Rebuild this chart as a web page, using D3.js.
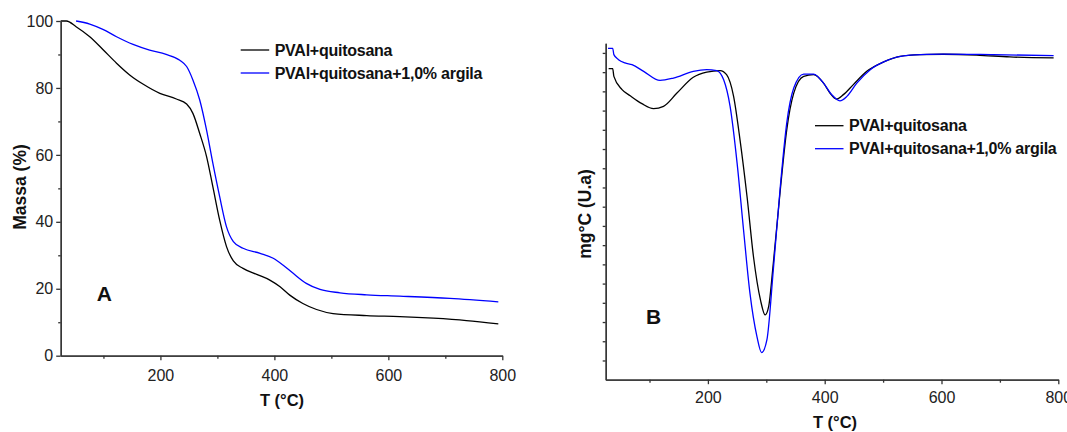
<!DOCTYPE html>
<html lang="pt">
<head>
<meta charset="UTF-8">
<title>TGA / DTG</title>
<style>
    body { margin: 0; background: #fff; }
    svg { display: block; font-family: 'Liberation Sans', Arial, sans-serif; }
    .axis path, .axis line { stroke: #333; stroke-width: 1.3; }
    .axis text { font-size: 16px; fill: #222; }
    .title { font-weight: bold; fill: #111; }
</style>
</head>
<body>
<div id="chart"></div>
<script src="https://cdn.jsdelivr.net/npm/d3@7/dist/d3.min.js"></script>
<script>
    const seriesNames = ['PVAl+quitosana', 'PVAl+quitosana+1,0% argila']
    const seriesColors = ['#000000', '#0000ff']

    // TGA (painel A) - massa (%) x T (°C)
    const tgaTempBlack = [25, 35, 52, 76, 99, 123, 146, 170, 199, 228, 246, 257, 269, 281, 292, 304, 316, 328, 345, 369, 392, 410, 427, 450, 474, 503, 562, 620, 679, 737, 793]
    const tgaMassBlack = [100, 100, 98.3, 95.3, 91.5, 87.4, 83.9, 81.1, 78.4, 76.7, 75.2, 72.4, 66.4, 59.5, 50.5, 40.5, 32.6, 28.3, 26.1, 24.3, 22.6, 20.6, 18.1, 15.6, 13.8, 12.6, 12.0, 11.7, 11.2, 10.5, 9.5]
    const tgaTempBlue = [52, 76, 99, 123, 152, 181, 210, 234, 246, 257, 269, 281, 292, 304, 316, 328, 345, 375, 398, 415, 433, 456, 480, 515, 562, 620, 708, 793]
    const tgaMassBlue = [100, 99.1, 97.5, 95.3, 93.0, 91.3, 90.0, 88.3, 86.4, 82.4, 76.4, 67.4, 57.5, 47.5, 38.5, 34.1, 32.1, 30.6, 29.1, 27.1, 24.6, 21.6, 19.8, 18.8, 18.2, 17.8, 17.1, 16.1]

    // DTG (painel B) - unidades arbitrarias
    const dtgTempBlack = [30, 37, 39, 53, 67, 87, 107, 124, 147, 175, 198, 221, 232, 244, 255, 267, 278, 290, 298, 304, 312, 324, 335, 347, 364, 381, 398, 409, 420, 432, 449, 472, 501, 529, 563, 603, 660, 717, 792]
    const dtgValBlack = [16.18, 16.18, 15.78, 15.09, 14.77, 14.36, 14.10, 14.22, 14.91, 15.73, 16.00, 16.08, 15.87, 14.74, 12.48, 9.53, 6.41, 4.15, 3.37, 3.80, 6.06, 9.88, 13.0, 14.91, 15.78, 15.87, 15.43, 14.91, 14.60, 14.83, 15.35, 16.04, 16.53, 16.82, 16.91, 16.93, 16.89, 16.79, 16.74]
    const dtgTempBlue = [29, 37, 39, 47, 58, 70, 90, 118, 141, 175, 198, 215, 227, 238, 250, 261, 272, 284, 292, 301, 312, 324, 335, 347, 364, 381, 398, 412, 426, 438, 455, 478, 506, 546, 603, 689, 792]
    const dtgValBlue = [17.24, 17.24, 16.91, 16.65, 16.48, 16.39, 16.04, 15.57, 15.69, 16.04, 16.13, 16.08, 15.60, 14.22, 11.27, 7.80, 4.50, 2.24, 1.41, 2.07, 5.71, 10.05, 13.35, 15.17, 15.90, 15.90, 15.43, 14.83, 14.51, 14.74, 15.43, 16.13, 16.60, 16.88, 16.94, 16.91, 16.86]

    const xTicks = [200, 400, 600, 800]
    const xMinorTicks = [100, 300, 500, 700]
    const tgaYTicks = [0, 20, 40, 60, 80, 100]
    const tgaYMinorTicks = [10, 30, 50, 70, 90]
    const dtgYTicks = d3.range(1, 18)

    const width = 1067
    const height = 432

    const svg = d3.select('#chart')
        .append('svg')
        .attr('width', width)
        .attr('height', height)

    const zip = (xs, ys) => xs.map((x, i) => [x, ys[i]])

    // ---------- painel A ----------
    const xA = d3.scaleLinear().domain([25, 800]).range([60.7, 502.3])
    const yA = d3.scaleLinear().domain([0, 100]).range([355.7, 21])

    drawPanel({
        x: xA,
        y: yA,
        yTicks: tgaYTicks,
        yMinor: tgaYMinorTicks,
        yLabels: true,
        xPad: 9,
        series: [zip(tgaTempBlack, tgaMassBlack), zip(tgaTempBlue, tgaMassBlue)],
        yTitle: 'Massa (%)',
        yTitlePos: [25.5, 187],
        xTitlePos: [282, 405.5],
        letter: 'A',
        letterPos: [96.7, 301],
        legend: [240.7, 50]
    })

    // ---------- painel B ----------
    const xB = d3.scaleLinear().domain([25, 800]).range([605.7, 1058.3])
    const yB = d3.scaleLinear().domain([0, 17.5]).range([379.7, 43.3])

    drawPanel({
        x: xB,
        y: yB,
        yTicks: dtgYTicks,
        yMinor: [],
        yLabels: false,
        xPad: 7,
        series: [zip(dtgTempBlack, dtgValBlack), zip(dtgTempBlue, dtgValBlue)],
        yTitle: 'mg°C (U.a)',
        yTitlePos: [590.5, 214],
        xTitlePos: [835, 428],
        letter: 'B',
        letterPos: [646, 324.3],
        legend: [815, 125.7]
    })

    function drawPanel(p) {
        const g = svg.append('g')
        const [y0] = p.y.range()
        const [x0] = p.x.range()

        // linhas
        const line = d3.line()
            .x(d => p.x(d[0]))
            .y(d => p.y(d[1]))
            .curve(d3.curveMonotoneX)

        g.selectAll('path.serie')
            .data(p.series)
            .enter()
            .append('path')
            .attr('class', 'serie')
            .attr('fill', 'none')
            .attr('stroke', (d, i) => seriesColors[i])
            .attr('stroke-width', 1.3)
            .attr('d', line)

        // eixo x
        g.append('g')
            .attr('class', 'axis')
            .attr('transform', `translate(0, ${y0})`)
            .call(d3.axisBottom(p.x).tickValues(xMinorTicks).tickSize(3).tickSizeOuter(0).tickFormat(''))
        g.append('g')
            .attr('class', 'axis')
            .attr('transform', `translate(0, ${y0})`)
            .call(d3.axisBottom(p.x).tickValues(xTicks).tickSize(4.5).tickSizeOuter(0).tickPadding(p.xPad).tickFormat(d3.format('d')))

        // eixo y
        g.append('g')
            .attr('class', 'axis')
            .attr('transform', `translate(${x0}, 0)`)
            .call(d3.axisLeft(p.y).tickValues(p.yMinor).tickSize(2.5).tickSizeOuter(0).tickFormat(''))
        g.append('g')
            .attr('class', 'axis')
            .attr('transform', `translate(${x0}, 0)`)
            .call(d3.axisLeft(p.y).tickValues(p.yTicks)
                .tickSize(p.yLabels ? 4.5 : 3)
                .tickSizeOuter(0)
                .tickPadding(3)
                .tickFormat(p.yLabels ? d3.format('d') : ''))

        // titulos
        g.append('text')
            .attr('class', 'title')
            .attr('text-anchor', 'middle')
            .attr('transform', `translate(${p.yTitlePos[0]}, ${p.yTitlePos[1]}) rotate(-90)`)
            .style('font-size', '17.5px')
            .text(p.yTitle)

        g.append('text')
            .attr('class', 'title')
            .attr('text-anchor', 'middle')
            .attr('x', p.xTitlePos[0])
            .attr('y', p.xTitlePos[1])
            .style('font-size', '16.5px')
            .text('T (°C)')

        g.append('text')
            .attr('class', 'title')
            .attr('x', p.letterPos[0])
            .attr('y', p.letterPos[1])
            .style('font-size', '21px')
            .text(p.letter)

        // legenda
        const leg = g.append('g')
            .attr('transform', `translate(${p.legend[0]}, ${p.legend[1]})`)
            .selectAll('g')
            .data(seriesNames)
            .enter()
            .append('g')
            .attr('transform', (d, i) => `translate(0, ${i * 23})`)

        leg.append('line')
            .attr('x2', 28.5)
            .attr('stroke', (d, i) => seriesColors[i])
            .attr('stroke-width', 1.3)

        leg.append('text')
            .attr('class', 'title')
            .attr('x', 34)
            .attr('dy', '0.36em')
            .style('font-size', '16px')
            .style('letter-spacing', '-0.25px')
            .text(d => d)
    }
</script>
</body>
</html>
